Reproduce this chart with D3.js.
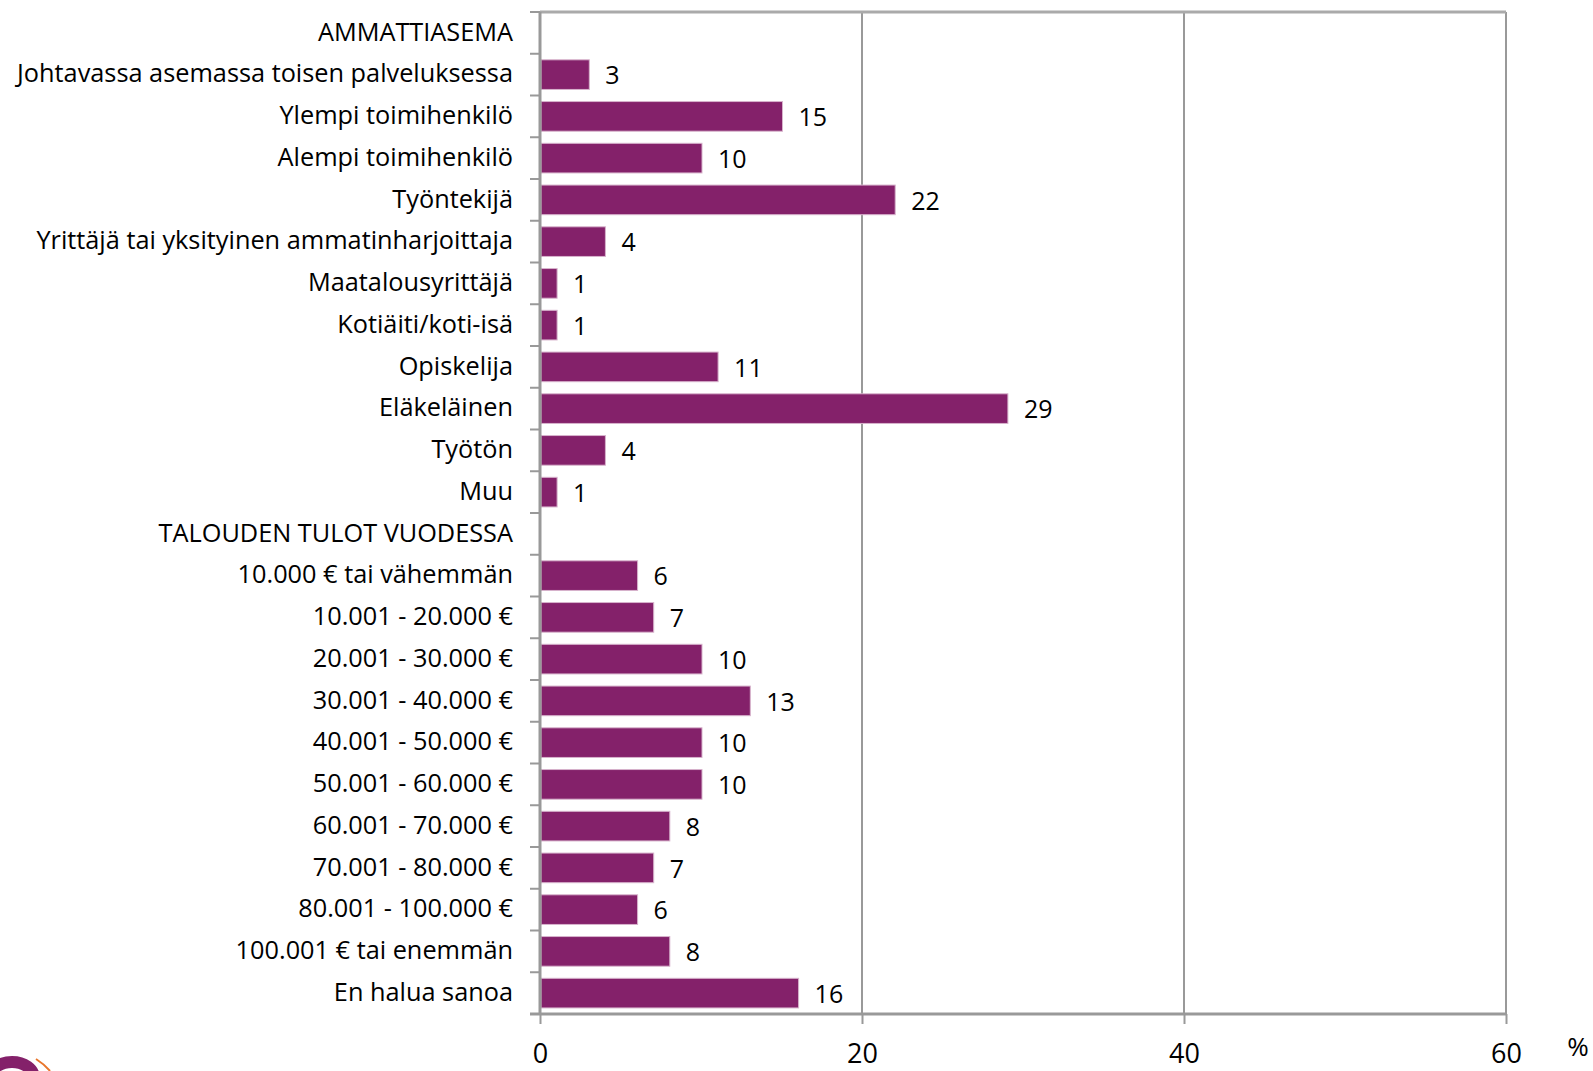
<!DOCTYPE html>
<html>
<head>
<meta charset="utf-8">
<script src="https://cdn.jsdelivr.net/npm/d3@7"></script>
<style>
  body { margin: 0; background: #fff; }
  svg text { font-family: "Open Sans", sans-serif; fill: #000; }
</style>
</head>
<body>
<div id="wrapper"></div>
<script>
// data (headers have no value)
const categories = [
  "AMMATTIASEMA",
  "Johtavassa asemassa toisen palveluksessa",
  "Ylempi toimihenkilö",
  "Alempi toimihenkilö",
  "Työntekijä",
  "Yrittäjä tai yksityinen ammatinharjoittaja",
  "Maatalousyrittäjä",
  "Kotiäiti/koti-isä",
  "Opiskelija",
  "Eläkeläinen",
  "Työtön",
  "Muu",
  "TALOUDEN TULOT VUODESSA",
  "10.000 € tai vähemmän",
  "10.001 - 20.000 €",
  "20.001 - 30.000 €",
  "30.001 - 40.000 €",
  "40.001 - 50.000 €",
  "50.001 - 60.000 €",
  "60.001 - 70.000 €",
  "70.001 - 80.000 €",
  "80.001 - 100.000 €",
  "100.001 € tai enemmän",
  "En halua sanoa"
]
const values = [null, 3, 15, 10, 22, 4, 1, 1, 11, 29, 4, 1, null, 6, 7, 10, 13, 10, 10, 8, 7, 6, 8, 16]
const xTicks = [0, 20, 40, 60]
const unitLabel = "%"

function drawBar() {
  const dataset = categories.map((c, i) => ({ cat: c, value: values[i] }))
  const xAccessor = d => d.value
  const yAccessor = d => d.cat

  let dimensions = {
    width: 1593,
    height: 1071,
    margin: { top: 12, right: 87, bottom: 57, left: 540 },
  }
  dimensions.boundedWidth = dimensions.width - dimensions.margin.left - dimensions.margin.right
  dimensions.boundedHeight = dimensions.height - dimensions.margin.top - dimensions.margin.bottom

  const wrapper = d3.select("#wrapper")
    .append("svg")
    .attr("width", dimensions.width)
    .attr("height", dimensions.height)

  const bounds = wrapper.append("g")
    .attr("transform", `translate(${dimensions.margin.left},${dimensions.margin.top})`)

  const xScaler = d3.scaleLinear()
    .domain([0, 60])
    .range([0, dimensions.boundedWidth])

  const yScaler = d3.scaleBand()
    .domain(categories)
    .range([0, dimensions.boundedHeight])
    .paddingInner(0.29)
    .paddingOuter(0.145)

  const gray = "#999999"

  // gridlines + top border
  bounds.append("g").selectAll("line")
    .data(xTicks.slice(1))
    .join("line")
      .attr("x1", d => xScaler(d)).attr("x2", d => xScaler(d))
      .attr("y1", 0).attr("y2", dimensions.boundedHeight)
      .attr("stroke", gray).attr("stroke-width", 2)
  bounds.append("line")
    .attr("x1", 0).attr("x2", dimensions.boundedWidth)
    .attr("y1", 0).attr("y2", 0)
    .attr("stroke", "#aaaaaa").attr("stroke-width", 3)

  // bars
  const bars = dataset.filter(d => d.value != null)
  bounds.append("g").selectAll("rect")
    .data(bars)
    .join("rect")
      .attr("x", xScaler(0) + 1)
      .attr("y", d => yScaler(yAccessor(d)))
      .attr("width", d => xScaler(xAccessor(d)) - xScaler(0))
      .attr("height", yScaler.bandwidth())
      .attr("fill", "#84216A")
      .attr("stroke", "#d7b3cc")
      .attr("stroke-width", 1)

  bounds.append("g").selectAll("text")
    .data(bars)
    .join("text")
      .attr("x", d => xScaler(xAccessor(d)) + 17)
      .attr("y", d => yScaler(yAccessor(d)) + yScaler.bandwidth() / 2 + 3)
      .attr("dominant-baseline", "middle")
      .attr("font-size", "25px")
      .text(d => d.value)

  // left axis: ticks at category boundaries
  const step = yScaler.step()
  const boundaries = d3.range(categories.length + 1).map(i => i * step)
  const yAxis = bounds.append("g")
  yAxis.append("line")
    .attr("x1", 0).attr("x2", 0)
    .attr("y1", 0).attr("y2", dimensions.boundedHeight)
    .attr("stroke", gray).attr("stroke-width", 3)
  yAxis.selectAll("line.tick")
    .data(boundaries)
    .join("line")
      .attr("class", "tick")
      .attr("x1", -10).attr("x2", 0)
      .attr("y1", d => d).attr("y2", d => d)
      .attr("stroke", gray).attr("stroke-width", 2)
  yAxis.selectAll("text")
    .data(categories)
    .join("text")
      .attr("x", -27)
      .attr("y", d => yScaler(d) + yScaler.bandwidth() / 2 + 1)
      .attr("text-anchor", "end")
      .attr("dominant-baseline", "middle")
      .attr("font-size", "25.3px")
      .text(d => d)

  // bottom axis
  const xAxisGen = d3.axisBottom(xScaler).tickValues(xTicks).tickSize(10).tickPadding(20)
  const axisX = bounds.append("g")
    .attr("transform", `translate(0,${dimensions.boundedHeight})`)
    .call(xAxisGen)
  axisX.select(".domain").remove()
  axisX.insert("line", ":first-child")
    .attr("x1", -10).attr("x2", dimensions.boundedWidth)
    .attr("stroke", gray).attr("stroke-width", 3)
  axisX.selectAll(".tick line").attr("stroke", gray).attr("stroke-width", 2)
  axisX.selectAll(".tick text")
    .attr("font-size", "27px")
    .attr("font-family", "Open Sans, sans-serif")
    .attr("fill", "#000")

  wrapper.append("text")
    .attr("x", 1578).attr("y", 1056)
    .attr("text-anchor", "middle")
    .attr("font-size", "26px")
    .text(unitLabel)

  // corner logo fragment
  const logo = wrapper.append("g")
  logo.append("ellipse")
    .attr("cx", 12).attr("cy", 1078).attr("rx", 22).attr("ry", 16)
    .attr("fill", "none").attr("stroke", "#84216A").attr("stroke-width", 12)
  logo.append("path")
    .attr("d", "M36,1059 Q44,1064 50,1071")
    .attr("fill", "none").attr("stroke", "#e8762b").attr("stroke-width", 2)
}
drawBar()
</script>
</body>
</html>
